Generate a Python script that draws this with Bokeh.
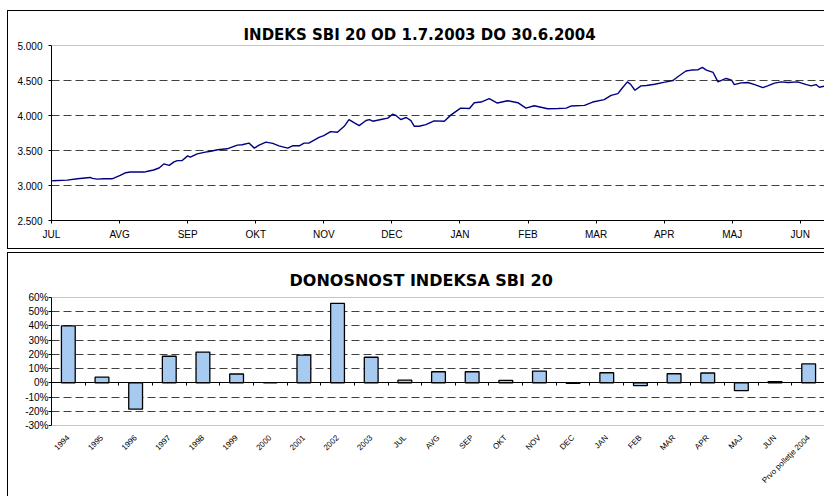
import math
from bokeh.plotting import figure
from bokeh.models import Range1d, FixedTicker, LinearAxis, Span, Title
from bokeh.layouts import column
from bokeh.embed import file_html
from bokeh.resources import INLINE

# ---- top chart data ----
meseci = ["JUL", "AVG", "SEP", "OKT", "NOV", "DEC", "JAN", "FEB", "MAR", "APR", "MAJ", "JUN"]
mesec = [0.01, 0.23, 0.38, 0.57, 0.60, 0.67, 0.77, 0.89, 0.94, 1.01, 1.09, 1.16, 1.36, 1.43, 1.50,
         1.58, 1.65, 1.73, 1.80, 1.85, 1.92, 2.00, 2.04, 2.14, 2.26, 2.34, 2.44, 2.58, 2.73, 2.80,
         2.90, 2.98, 3.05, 3.15, 3.25, 3.34, 3.47, 3.54, 3.64, 3.71, 3.78, 3.93, 4.00, 4.10, 4.20,
         4.30, 4.37, 4.45, 4.52, 4.62, 4.67, 4.72, 4.84, 4.94, 5.01, 5.06, 5.13, 5.21, 5.28, 5.33,
         5.40, 5.50, 5.62, 5.77, 5.87, 6.01, 6.14, 6.21, 6.31, 6.43, 6.55, 6.70, 6.85, 6.97, 7.09,
         7.29, 7.44, 7.56, 7.63, 7.83, 7.95, 8.12, 8.22, 8.32, 8.37, 8.46, 8.51, 8.57, 8.66, 8.74,
         8.86, 9.01, 9.13, 9.20, 9.32, 9.40, 9.50, 9.56, 9.62, 9.72, 9.79, 9.91, 9.99, 10.03, 10.13,
         10.23, 10.33, 10.45, 10.52, 10.62, 10.72, 10.82, 10.96, 11.09, 11.16, 11.23, 11.28, 11.37]
indeks = [3067, 3077, 3096, 3115, 3101, 3091, 3096, 3096, 3115, 3144, 3183, 3192, 3192, 3207, 3221,
          3250, 3308, 3288, 3337, 3356, 3356, 3423, 3404, 3452, 3476, 3490, 3510, 3524, 3577, 3582,
          3606, 3534, 3577, 3620, 3601, 3567, 3534, 3567, 3567, 3606, 3606, 3688, 3712, 3769, 3760,
          3846, 3942, 3894, 3856, 3928, 3942, 3918, 3942, 3962, 4019, 4000, 3942, 3971, 3928, 3846,
          3846, 3870, 3923, 3918, 4009, 4106, 4101, 4183, 4192, 4240, 4178, 4211, 4183, 4106, 4139,
          4096, 4101, 4106, 4135, 4144, 4192, 4226, 4288, 4313, 4375, 4481, 4442, 4361, 4423, 4428,
          4447, 4476, 4500, 4553, 4635, 4649, 4654, 4688, 4649, 4615, 4481, 4529, 4505, 4442, 4466,
          4471, 4442, 4399, 4423, 4462, 4481, 4471, 4481, 4442, 4423, 4442, 4404, 4423]
y1_ticks = [2500, 3000, 3500, 4000, 4500, 5000]
y1_labels = ["2.500", "3.000", "3.500", "4.000", "4.500", "5.000"]
naslov1 = "INDEKS SBI 20 OD 1.7.2003 DO 30.6.2004"

# ---- bottom chart data ----
kategorije = ["1994", "1995", "1996", "1997", "1998", "1999", "2000", "2001", "2002", "2003",
              "JUL", "AVG", "SEP", "OKT", "NOV", "DEC", "JAN", "FEB", "MAR", "APR", "MAJ", "JUN",
              "Prvo polletje 2004"]
donosnost = [0.40, 0.04, -0.185, 0.187, 0.216, 0.062, 0.0, 0.195, 0.558, 0.18,
             0.019, 0.078, 0.078, 0.017, 0.083, -0.003, 0.071, -0.019, 0.064, 0.069, -0.055, 0.009,
             0.133]
y2_ticks = [-0.3, -0.2, -0.1, 0.0, 0.1, 0.2, 0.3, 0.4, 0.5, 0.6]
y2_labels = ["-30%", "-20%", "-10%", "0%", "10%", "20%", "30%", "40%", "50%", "60%"]
naslov2 = "DONOSNOST INDEKSA SBI 20"

FONT = "Liberation Sans"
TFONT = "DejaVu Sans"
GRID = "#404040"
FRAME = "#8c8c8c"

# ================= top figure =================
x1_end = 11.37
p1 = figure(width=817, height=239, output_backend="svg", toolbar_location=None,
            x_range=Range1d(0, x1_end), y_range=Range1d(y1_ticks[0], y1_ticks[-1]),
            min_border_left=43, min_border_right=0, min_border_top=34, min_border_bottom=30)
p1.margin = (10, 0, 0, 7)
p1.styles = {"border-left": "1px solid black", "border-top": "1px solid black",
             "border-bottom": "1px solid black", "box-sizing": "border-box"}
p1.outline_line_color = None
p1.background_fill_color = "white"
p1.border_fill_color = "white"
p1.title = Title(text=naslov1, align="left", offset=192, standoff=3,
                 text_font=TFONT, text_font_style="bold", text_font_size="15px",
                 text_color="black")

p1.line(mesec, indeks, line_color="#000080", line_width=1.4)

p1.xaxis.ticker = FixedTicker(ticks=list(range(len(meseci))))
p1.xaxis.major_label_overrides = {i: m for i, m in enumerate(meseci)}
p1.yaxis.ticker = FixedTicker(ticks=y1_ticks)
p1.yaxis.major_label_overrides = dict(zip(y1_ticks, y1_labels))
for ax in (p1.xaxis[0], p1.yaxis[0]):
    ax.axis_line_color = "black"
    ax.major_tick_line_color = "black"
    ax.major_tick_out = 3
    ax.major_tick_in = 0
    ax.minor_tick_line_color = None
    ax.major_label_text_font = FONT
    ax.major_label_text_font_size = "10px"
    ax.major_label_text_color = "black"
p1.xaxis.major_label_standoff = 5
p1.yaxis.major_label_standoff = 6
p1.xgrid.grid_line_color = None
p1.ygrid.ticker = FixedTicker(ticks=y1_ticks[1:-1])
p1.ygrid.grid_line_color = GRID
p1.ygrid.grid_line_dash = "8 4"
p1.ygrid.grid_line_width = 1.2
p1.add_layout(Span(location=y1_ticks[-1], dimension="width", line_color=FRAME, line_width=1))

# ================= bottom figure =================
n = len(kategorije)
pos = [i + 0.5 for i in range(n)]
p2 = figure(width=817, height=244, output_backend="svg", toolbar_location=None,
            x_range=Range1d(0, n), y_range=Range1d(y2_ticks[0], y2_ticks[-1]),
            min_border_left=43, min_border_right=0, min_border_top=44, min_border_bottom=72)
p2.margin = (3, 0, 0, 7)
p2.styles = {"border-left": "1px solid black", "border-top": "1px solid black",
             "box-sizing": "border-box"}
p2.outline_line_color = None
p2.background_fill_color = "white"
p2.border_fill_color = "white"
p2.title = Title(text=naslov2, align="left", offset=238, standoff=15,
                 text_font=TFONT, text_font_style="bold", text_font_size="16px",
                 text_color="black")

p2.ygrid.ticker = FixedTicker(ticks=[t for t in y2_ticks[1:-1] if t != 0.0])
p2.ygrid.grid_line_color = GRID
p2.ygrid.grid_line_dash = "8 4"
p2.ygrid.grid_line_width = 1.2
p2.xgrid.grid_line_color = None
p2.add_layout(Span(location=y2_ticks[-1], dimension="width", line_color=FRAME, line_width=1))
p2.add_layout(Span(location=y2_ticks[0], dimension="width", line_color=FRAME, line_width=1))

p2.vbar(x=pos, top=donosnost, bottom=0, width=0.41, fill_color="#a6caf0",
        line_color="black", line_width=1.3)

# zero axis with boundary ticks
zero_ax = LinearAxis(fixed_location=0, ticker=FixedTicker(ticks=list(range(n + 1))))
zero_ax.major_label_overrides = {i: "" for i in range(n + 1)}
zero_ax.axis_line_color = "black"
zero_ax.major_tick_line_color = "black"
zero_ax.major_tick_out = 3
zero_ax.major_tick_in = 0
zero_ax.minor_tick_line_color = None
zero_ax.major_label_standoff = 0
p2.add_layout(zero_ax, "below")

xa = p2.xaxis[0]
xa.ticker = FixedTicker(ticks=pos)
xa.major_label_overrides = {p: k for p, k in zip(pos, kategorije)}
xa.axis_line_color = None
xa.major_tick_line_color = None
xa.minor_tick_line_color = None
xa.major_label_orientation = math.pi / 4
xa.major_label_text_font = FONT
xa.major_label_text_font_size = "8px"
xa.major_label_text_color = "black"
xa.major_label_standoff = 5

ya = p2.yaxis[0]
ya.ticker = FixedTicker(ticks=y2_ticks)
ya.major_label_overrides = dict(zip(y2_ticks, y2_labels))
ya.axis_line_color = "black"
ya.major_tick_line_color = "black"
ya.major_tick_out = 3
ya.major_tick_in = 0
ya.minor_tick_line_color = None
ya.major_label_text_font = FONT
ya.major_label_text_font_size = "10px"
ya.major_label_text_color = "black"
ya.major_label_standoff = 0

lay = column(p1, p2, spacing=0)
open("out.html", "w").write(file_html(lay, INLINE))
